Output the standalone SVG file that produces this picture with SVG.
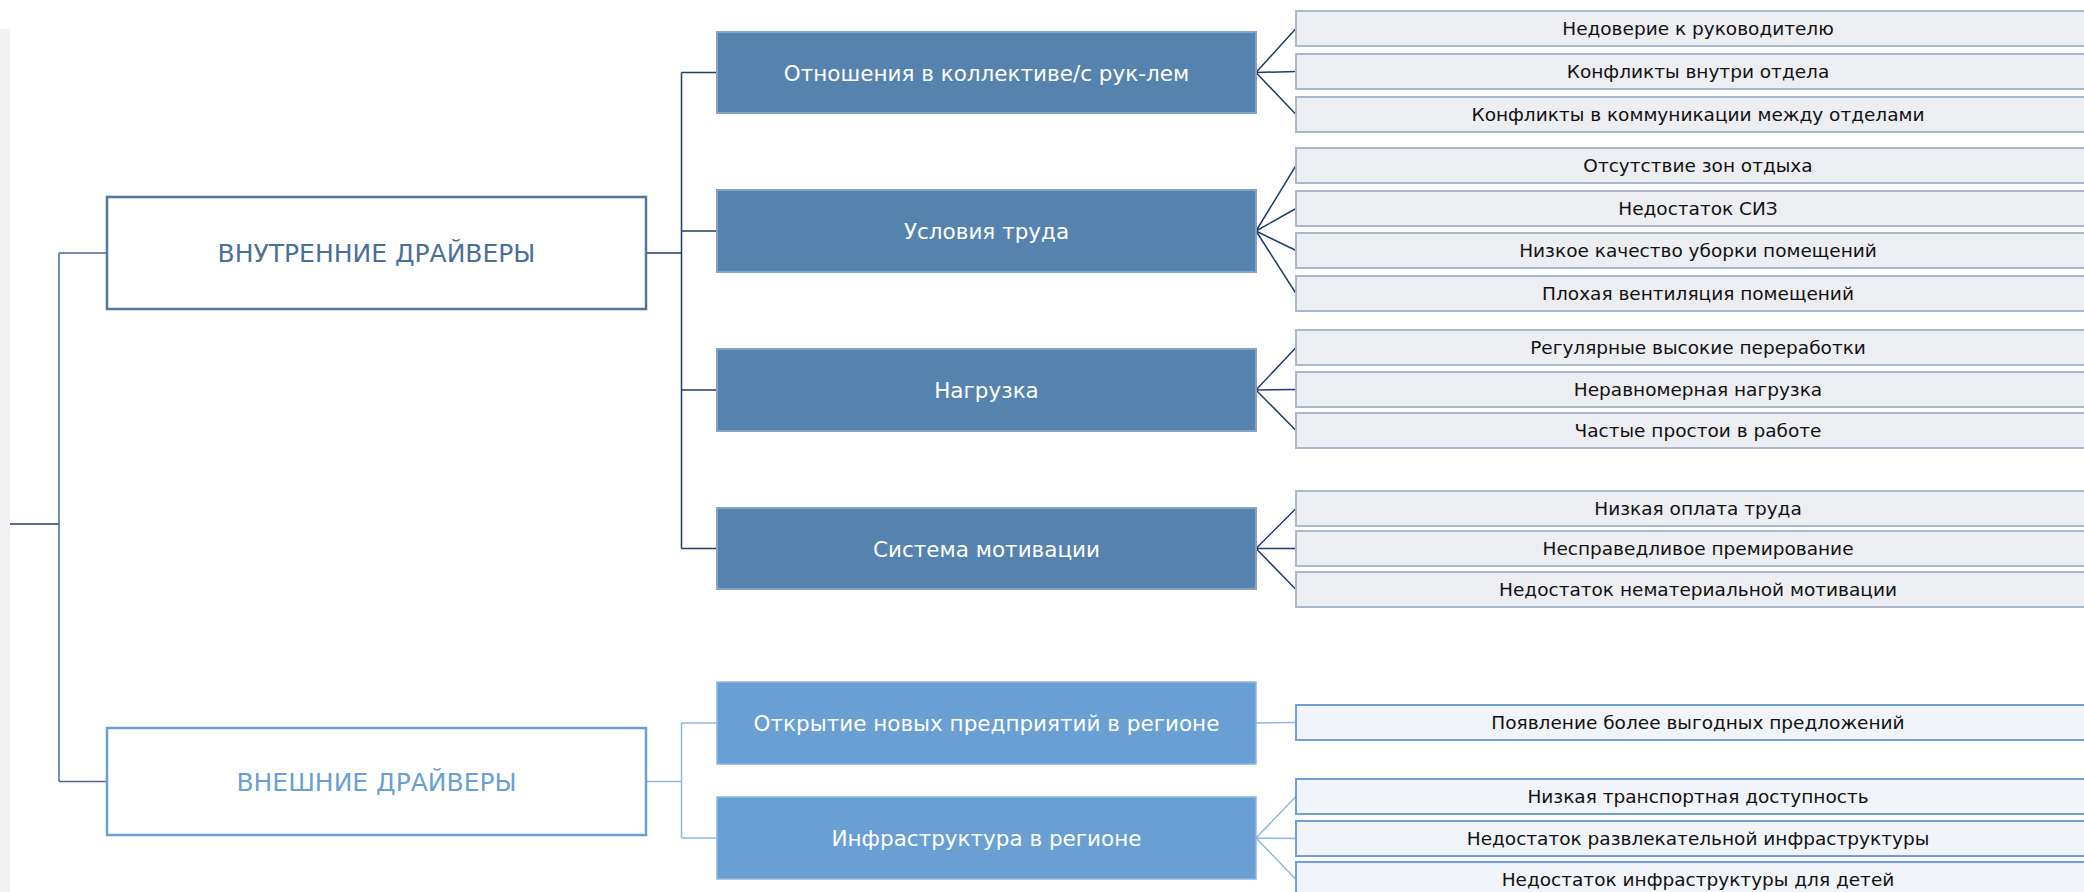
<svg xmlns="http://www.w3.org/2000/svg" width="2084" height="892" viewBox="0 0 2084 892">
<style>
text{font-family:"DejaVu Sans","Liberation Sans",sans-serif;text-anchor:middle}
.l1a{fill:#fff;stroke:#52769c;stroke-width:2.5}
.l1b{fill:#fff;stroke:#6b9fd4;stroke-width:2.5}
.t1a{font-size:25px;fill:#4a6f98}
.t1b{font-size:25px;fill:#6a9fd4}
.l2a{fill:#5583ae;stroke:#86a3c4;stroke-width:2}
.l2b{fill:#6a9fd3;stroke:#8db6e0;stroke-width:1.5}
.t2{font-size:21.5px;fill:#fff}
.l3a{fill:#edeef2;stroke:#a9b8cc;stroke-width:2}
.l3b{fill:#f1f4f8;stroke:#6f9fd6;stroke-width:2}
.t3{font-size:18.5px;fill:#111}
.ca{fill:none;stroke:#1f3d6b;stroke-width:1.5}
.cb{fill:none;stroke:#8db8e3;stroke-width:1.5}
.ct{fill:none;stroke:#4a6a92;stroke-width:1.5}
</style>
<rect x="0" y="29" width="10" height="863" fill="#f2f2f2"/>
<g id="connectors">
<path class="ca" d="M10 524H59"/>
<path class="ct" d="M59 253V781.5M59 253H107M59 781.5H107"/>
<path class="ca" d="M646 253H681.5M681.5 72.5V548.5M681.5 72.5H717M681.5 231H717M681.5 390H717M681.5 548.5H717"/>
<path class="cb" d="M646 781.5H681.5M681.5 723V838M681.5 723H717M681.5 838H717"/>
<path class="ca" d="M1256 72.5L1296 28.5M1256 72.5L1296 71.5M1256 72.5L1296 114.5"/>
<path class="ca" d="M1256 231L1296 165.5M1256 231L1296 208.5M1256 231L1296 250.5M1256 231L1296 293.5"/>
<path class="ca" d="M1256 390L1296 347.5M1256 390L1296 389.5M1256 390L1296 430.5"/>
<path class="ca" d="M1256 548.5L1296 508.5M1256 548.5L1296 548.5M1256 548.5L1296 589.5"/>
<path class="cb" d="M1256 723L1296 722.5"/>
<path class="cb" d="M1256 838L1296 796.5M1256 838L1296 838.5M1256 838L1296 879.5"/>
</g>
<g id="n-internal"><rect class="l1a" x="107" y="197" width="539" height="112"/><text class="t1a" x="376.5" y="262">ВНУТРЕННИЕ ДРАЙВЕРЫ</text></g>
<g id="n-external"><rect class="l1b" x="107" y="728" width="539" height="107"/><text class="t1b" x="376.5" y="790.5">ВНЕШНИЕ ДРАЙВЕРЫ</text></g>
<g id="n-relations"><rect class="l2a" x="717" y="32" width="539" height="81"/><text class="t2" x="986.5" y="80.5">Отношения в коллективе/с рук-лем</text></g>
<g id="n-conditions"><rect class="l2a" x="717" y="190" width="539" height="82"/><text class="t2" x="986.5" y="239">Условия труда</text></g>
<g id="n-load"><rect class="l2a" x="717" y="349" width="539" height="82"/><text class="t2" x="986.5" y="398">Нагрузка</text></g>
<g id="n-motivation"><rect class="l2a" x="717" y="508" width="539" height="81"/><text class="t2" x="986.5" y="556.5">Система мотивации</text></g>
<g id="n-newplants"><rect class="l2b" x="717" y="682" width="539" height="82"/><text class="t2" x="986.5" y="731">Открытие новых предприятий в регионе</text></g>
<g id="n-infra"><rect class="l2b" x="717" y="797" width="539" height="82"/><text class="t2" x="986.5" y="846">Инфраструктура в регионе</text></g>
<g id="n-r1"><rect class="l3a" x="1296" y="11" width="804" height="35"/><text class="t3" x="1698" y="35.2">Недоверие к руководителю</text></g>
<g id="n-r2"><rect class="l3a" x="1296" y="54" width="804" height="35"/><text class="t3" x="1698" y="78.2">Конфликты внутри отдела</text></g>
<g id="n-r3"><rect class="l3a" x="1296" y="97" width="804" height="35"/><text class="t3" x="1698" y="121.2">Конфликты в коммуникации между отделами</text></g>
<g id="n-c1"><rect class="l3a" x="1296" y="148" width="804" height="35"/><text class="t3" x="1698" y="172.2">Отсутствие зон отдыха</text></g>
<g id="n-c2"><rect class="l3a" x="1296" y="191" width="804" height="35"/><text class="t3" x="1698" y="215.2">Недостаток СИЗ</text></g>
<g id="n-c3"><rect class="l3a" x="1296" y="233" width="804" height="35"/><text class="t3" x="1698" y="257.2">Низкое качество уборки помещений</text></g>
<g id="n-c4"><rect class="l3a" x="1296" y="276" width="804" height="35"/><text class="t3" x="1698" y="300.2">Плохая вентиляция помещений</text></g>
<g id="n-l1"><rect class="l3a" x="1296" y="330" width="804" height="35"/><text class="t3" x="1698" y="354.2">Регулярные высокие переработки</text></g>
<g id="n-l2"><rect class="l3a" x="1296" y="372" width="804" height="35"/><text class="t3" x="1698" y="396.2">Неравномерная нагрузка</text></g>
<g id="n-l3"><rect class="l3a" x="1296" y="413" width="804" height="35"/><text class="t3" x="1698" y="437.2">Частые простои в работе</text></g>
<g id="n-m1"><rect class="l3a" x="1296" y="491" width="804" height="35"/><text class="t3" x="1698" y="515.2">Низкая оплата труда</text></g>
<g id="n-m2"><rect class="l3a" x="1296" y="531" width="804" height="35"/><text class="t3" x="1698" y="555.2">Несправедливое премирование</text></g>
<g id="n-m3"><rect class="l3a" x="1296" y="572" width="804" height="35"/><text class="t3" x="1698" y="596.2">Недостаток нематериальной мотивации</text></g>
<g id="n-e1"><rect class="l3b" x="1296" y="705" width="804" height="35"/><text class="t3" x="1698" y="729.2">Появление более выгодных предложений</text></g>
<g id="n-i1"><rect class="l3b" x="1296" y="779" width="804" height="35"/><text class="t3" x="1698" y="803.2">Низкая транспортная доступность</text></g>
<g id="n-i2"><rect class="l3b" x="1296" y="821" width="804" height="35"/><text class="t3" x="1698" y="845.2">Недостаток развлекательной инфраструктуры</text></g>
<g id="n-i3"><rect class="l3b" x="1296" y="862" width="804" height="35"/><text class="t3" x="1698" y="886.2">Недостаток инфраструктуры для детей</text></g>
</svg>
